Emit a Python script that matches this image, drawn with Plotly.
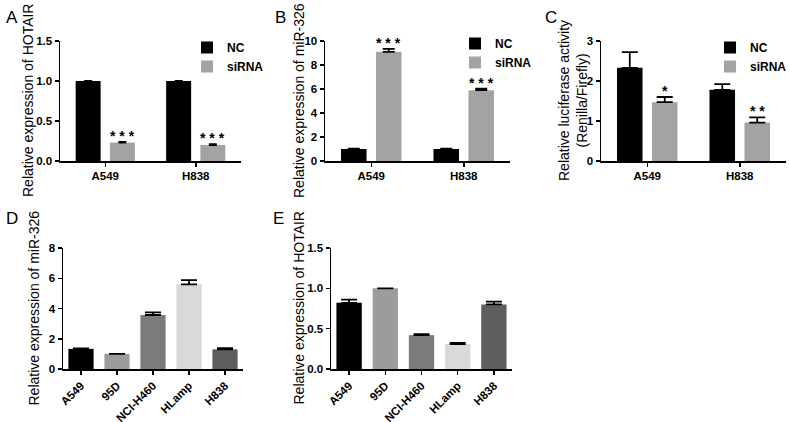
import plotly.graph_objects as go

# ---------------- data ----------------
cells = ["A549", "H838"]
groups = ["NC", "siRNA"]

hotair_nc = [1.0, 1.0]
hotair_nc_err = [0.0, 0.0]
hotair_si = [0.23, 0.20]
hotair_si_err = [0.008, 0.01]
sig_a = ["* * *", "* * *"]

mir_nc = [1.0, 1.0]
mir_nc_err = [0.03, 0.02]
mir_si = [9.1, 5.9]
mir_si_err = [0.25, 0.12]
sig_b = ["* * *", "* * *"]

luc_nc = [2.33, 1.78]
luc_nc_err = [0.39, 0.14]
luc_si = [1.47, 0.96]
luc_si_err = [0.13, 0.13]
sig_c = ["*", "* *"]

lines = ["A549", "95D", "NCI-H460", "HLamp", "H838"]
mir_lines = [1.33, 1.0, 3.57, 5.6, 1.3]
mir_lines_err = [0.04, 0.0, 0.17, 0.27, 0.08]
hotair_lines = [0.82, 1.0, 0.42, 0.31, 0.80]
hotair_lines_err = [0.04, 0.0, 0.012, 0.015, 0.035]

titles = {
    "A": "Relative expression of HOTAIR",
    "B": "Relative expression of miR-326",
    "C": "Relative luciferase activity<br>(Renilla/Firefly)",
    "D": "Relative expression of miR-326",
    "E": "Relative expression of HOTAIR",
}

# ---------------- style ----------------
W, H = 789, 422
FONT = "Liberation Sans, Arial, sans-serif"
NC_COLOR = "#000000"
SI_COLOR = "#a3a3a3"
LINE_COLORS = ["#000000", "#9c9c9c", "#7b7b7b", "#d9d9d9", "#5e5e5e"]
BAR_W = 0.276
NC_OFF = -0.327
SI_OFF = 0.051


def dx(a, b):
    return [a / W, b / W]


def dy(top, bottom):
    return [1 - bottom / H, 1 - top / H]


fig = go.Figure()


def grouped(xa, ya, nc, nce, si, sie, legend, capw):
    fig.add_trace(go.Bar(
        x=cells, y=nc, name=groups[0], xaxis=xa, yaxis=ya, legend=legend,
        marker=dict(color=NC_COLOR, line=dict(width=0)),
        width=BAR_W, offset=NC_OFF, hoverinfo="skip",
        error_y=dict(type="data", array=nce, arrayminus=[0] * len(nc), symmetric=False,
                     color="black", thickness=1.8, width=capw),
    ))
    fig.add_trace(go.Bar(
        x=cells, y=si, name=groups[1], xaxis=xa, yaxis=ya, legend=legend,
        marker=dict(color=SI_COLOR, line=dict(width=0)),
        width=BAR_W, offset=SI_OFF, hoverinfo="skip",
        error_y=dict(type="data", array=sie, arrayminus=[0] * len(si), symmetric=False,
                     color="black", thickness=1.8, width=capw),
    ))


grouped("x", "y", hotair_nc, hotair_nc_err, hotair_si, hotair_si_err, "legend", 4)
grouped("x2", "y2", mir_nc, mir_nc_err, mir_si, mir_si_err, "legend2", 6)
grouped("x3", "y3", luc_nc, luc_nc_err, luc_si, luc_si_err, "legend3", 8)

for xa, ya, vals, errs in [("x4", "y4", mir_lines, mir_lines_err),
                           ("x5", "y5", hotair_lines, hotair_lines_err)]:
    fig.add_trace(go.Bar(
        x=lines, y=vals, xaxis=xa, yaxis=ya, showlegend=False, width=0.7,
        marker=dict(color=LINE_COLORS, line=dict(width=0)), hoverinfo="skip",
        error_y=dict(type="data", array=errs, arrayminus=[0] * len(vals), symmetric=False,
                     color="black", thickness=1.8, width=8),
    ))

# significance stars
annotations = []
for xr, yr, vals, errs, sig in [("x", "y", hotair_si, hotair_si_err, sig_a),
                                ("x2", "y2", mir_si, mir_si_err, sig_b),
                                ("x3", "y3", luc_si, luc_si_err, sig_c)]:
    for i, (v, e, s) in enumerate(zip(vals, errs, sig)):
        annotations.append(dict(
            x=i + SI_OFF + BAR_W / 2, y=v + e, xref=xr, yref=yr, text=s,
            showarrow=False, yanchor="bottom", yshift=-4,
            font=dict(family=FONT, size=14, color="black", weight="bold"),
        ))

# panel letters
for letter, px, py in [("A", 4, 6), ("B", 273, 6), ("C", 543, 6), ("D", 4, 207), ("E", 271, 207)]:
    annotations.append(dict(
        x=px / W, y=1 - py / H, xref="paper", yref="paper", text=letter,
        showarrow=False, xanchor="left", yanchor="top",
        font=dict(family=FONT, size=17, color="black"),
    ))

# y-axis titles (rotated text)
for key, px, top, bottom in [("A", 28, 41, 161), ("B", 299, 41, 161), ("C", 573, 41, 161),
                             ("D", 33, 248, 369), ("E", 298, 248, 369)]:
    annotations.append(dict(
        x=px / W, y=1 - (top + bottom) / 2 / H, xref="paper", yref="paper",
        text=titles[key], textangle=-90, showarrow=False,
        xanchor="center", yanchor="middle",
        font=dict(family=FONT, size=14, color="black"),
    ))

tickfont = dict(family=FONT, size=11.5, color="black", weight="bold")


def xax(domain, anchor, n, angle=0):
    return dict(domain=domain, anchor=anchor, type="category", range=[-0.5, n - 0.5],
                showline=True, linecolor="black", linewidth=1.5, ticks="outside",
                ticklen=4, tickwidth=1.5, tickcolor="black", showgrid=False,
                zeroline=False, tickfont=tickfont, tickangle=angle, fixedrange=True,
                automargin=False)


def yax(domain, anchor, rng, dtick, fmt=None):
    d = dict(domain=domain, anchor=anchor, range=rng, dtick=dtick, tick0=0,
             showline=True, linecolor="black", linewidth=1.5, ticks="outside",
             ticklen=4, tickwidth=1.5, tickcolor="black", showgrid=False,
             zeroline=False, tickfont=tickfont, automargin=False, fixedrange=True)
    if fmt:
        d["tickformat"] = fmt
    return d


legend_common = dict(font=dict(family=FONT, size=12, color="black", weight="bold"),
                     bgcolor="rgba(0,0,0,0)", borderwidth=0, itemwidth=30,
                     xanchor="left", yanchor="top", tracegroupgap=0)

fig.update_layout(
    width=W, height=H, margin=dict(l=0, r=0, t=0, b=0, pad=0, autoexpand=False),
    paper_bgcolor="white", plot_bgcolor="white",
    barmode="overlay", showlegend=True,
    font=dict(family=FONT, color="black"),
    xaxis=xax(dx(60, 241), "y", 2),
    yaxis=yax(dy(41, 161), "x", [0, 1.5], 0.5, ".1f"),
    xaxis2=xax(dx(325, 510), "y2", 2),
    yaxis2=yax(dy(41, 161), "x2", [0, 10], 2),
    xaxis3=xax(dx(601, 786), "y3", 2),
    yaxis3=yax(dy(41, 161), "x3", [0, 3], 1),
    xaxis4=xax(dx(63, 243), "y4", 5, -45),
    yaxis4=yax(dy(248, 369), "x4", [0, 8], 2),
    xaxis5=xax(dx(331, 512), "y5", 5, -45),
    yaxis5=yax(dy(248, 369), "x5", [0, 1.5], 0.5, ".1f"),
    legend=dict(x=187 / W, y=1 - 33 / H, **legend_common),
    legend2=dict(x=455 / W, y=1 - 29 / H, **legend_common),
    legend3=dict(x=710 / W, y=1 - 33 / H, **legend_common),
    annotations=annotations,
)

fig.write_html("out.html", config={"displayModeBar": False, "staticPlot": True},
               post_script="document.body.style.margin='0px';")
